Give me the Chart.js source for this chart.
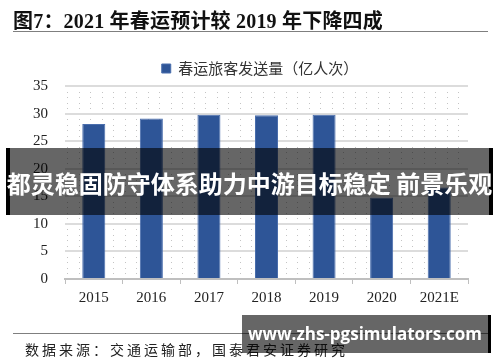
<!DOCTYPE html>
<html>
<head>
<meta charset="utf-8">
<script src="https://cdn.jsdelivr.net/npm/chart.js@4/dist/chart.umd.min.js"></script>
<style>
  body { margin: 0; width: 500px; height: 362px; background: #fff; position: relative; overflow: hidden; }
  #chart { position: absolute; left: 0; top: 0; }
  .title { position: absolute; left: 13px; top: 5px; font: bold 20px "Liberation Serif", "Noto Sans CJK SC"; letter-spacing: 0.2px; color: #111; white-space: nowrap; }
  .rule { position: absolute; left: 13px; width: 475px; height: 0; border-top: 1px solid #7f7f7f; }
  .source { position: absolute; left: 25px; top: 339px; font: 14px "Liberation Serif", "Noto Sans CJK SC"; letter-spacing: 3px; color: #222; white-space: nowrap; }
  .banner { position: absolute; left: 6px; top: 148px; width: 479px; height: 67px; background: rgba(0,0,0,0.6); border-left: 4px solid #000; border-right: 4px solid #000; }
  .banner span { position: absolute; left: -5px; right: -5px; top: 20px; text-align: center; font: bold 24px "Noto Sans CJK SC"; color: #fff; white-space: nowrap; line-height: 30px; }
  .mark { position: absolute; left: 242px; top: 315px; width: 246px; height: 38px; background: rgba(0,0,0,0.6); border-right: 3px solid #000; }
  .mark span { position: absolute; left: 0; right: 0; top: 7px; text-align: center; font: bold 17px "Open Sans"; color: #fff; white-space: nowrap; line-height: 24px; }
</style>
</head>
<body>
<canvas id="chart" width="500" height="362"></canvas>
<div class="title">图7：2021 年春运预计较 2019 年下降四成</div>
<div class="rule" style="top:31px"></div>
<div class="rule" style="top:333px"></div>
<div class="source">数据来源：交通运输部，国泰君安证券研究</div>
<div class="banner"><span>都灵稳固防守体系助力中游目标稳定 前景乐观</span></div>
<div class="mark"><span>www.zhs-pgsimulators.com</span></div>
<script>
const years = ["2015", "2016", "2017", "2018", "2019", "2020", "2021E"];
const passengers = [28.1, 29.1, 29.8, 29.7, 29.8, 14.8, 16.6];
const seriesName = "春运旅客发送量（亿人次）";
const yTicks = [0, 5, 10, 15, 20, 25, 30, 35];

// dotted background between the gridlines
const dotGrid = {
  id: "dotGrid",
  beforeDatasetsDraw(chart) {
    const { ctx, chartArea, scales } = chart;
    const y = scales.y;
    const step = (chartArea.right - chartArea.left) / years.length / 5;
    ctx.save();
    ctx.fillStyle = "#c4c4c4";
    for (let v = 1; v < 35; v++) {
      if (v % 5 === 0) continue;
      const py = Math.round(y.getPixelForValue(v));
      for (let px = chartArea.left + 2; px < chartArea.right; px += step) {
        ctx.fillRect(Math.round(px), py, 1, 1);
      }
    }
    ctx.restore();
  },
};

// legend sits a bit right of the canvas centre
const legendShift = {
  id: "legendShift",
  afterLayout(chart) {
    chart.legend.left += 26;
    chart.legend.right += 26;
  },
};

new Chart(document.getElementById("chart"), {
  type: "bar",
  data: {
    labels: years,
    datasets: [
      {
        label: seriesName,
        data: passengers,
        backgroundColor: "#2E5597",
        borderColor: "#4A6EAD",
        borderWidth: 1,
        barPercentage: 0.4,
        categoryPercentage: 1,
      },
    ],
  },
  options: {
    responsive: false,
    animation: false,
    layout: { padding: { left: 0, right: 32, top: 51, bottom: 53 } },
    scales: {
      y: {
        min: 0,
        max: 35,
        afterBuildTicks: (s) => { s.ticks = yTicks.map((v) => ({ value: v })); },
        afterFit: (s) => { s.width = 65; },
        ticks: { padding: 17, color: "#222", font: { family: "Liberation Serif", size: 15 } },
        grid: { color: "#dcdcdc", lineWidth: 2, drawTicks: false },
        border: { display: false },
      },
      x: {
        afterFit: (s) => { s.height = 30; },
        ticks: { padding: 5, color: "#222", font: { family: "Liberation Serif", size: 15 } },
        grid: { drawOnChartArea: false, tickLength: 5, color: "#bfbfbf", offset: true },
        border: { color: "#bfbfbf", width: 2 },
      },
    },
    plugins: {
      legend: {
        display: true,
        position: "top",
        labels: {
          boxWidth: 9,
          boxHeight: 9,
          padding: 10,
          color: "#333",
          font: { family: "Noto Sans CJK SC", size: 15 },
        },
      },
      tooltip: { enabled: false },
    },
  },
  plugins: [dotGrid, legendShift],
});
</script>
</body>
</html>
